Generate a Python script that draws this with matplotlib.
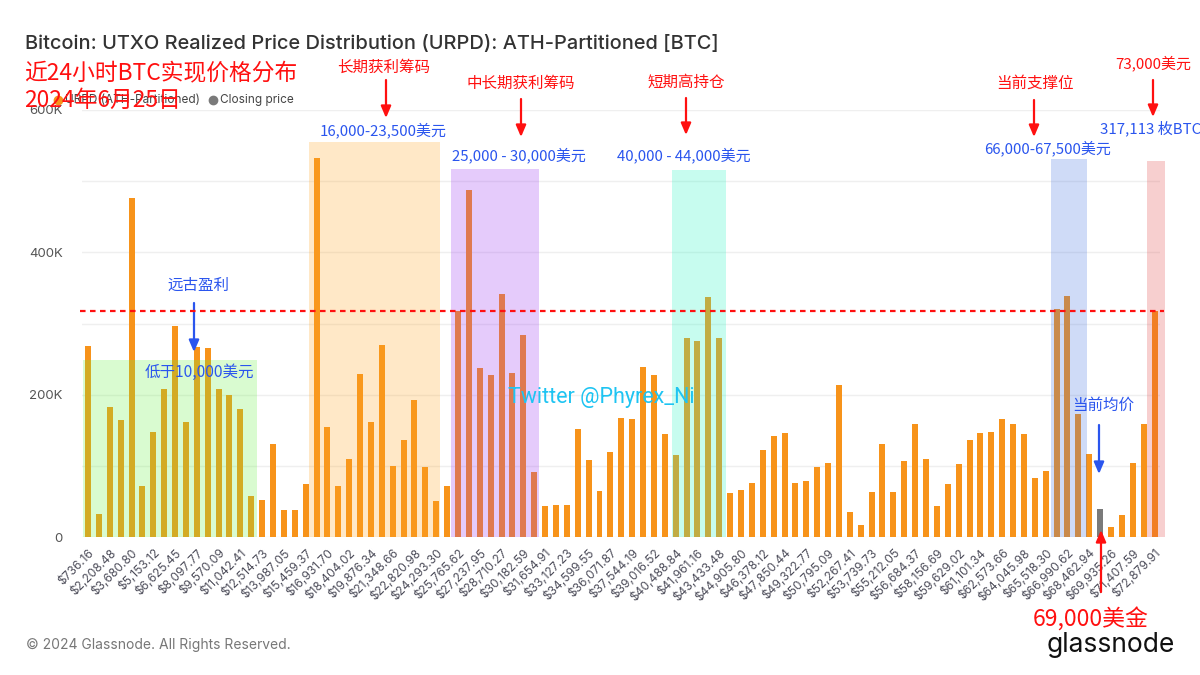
import matplotlib
matplotlib.use("Agg")
import matplotlib.pyplot as plt
from matplotlib.patches import Rectangle
from matplotlib.lines import Line2D

# ---------------- data ----------------
tick_labels = ["$736.16", "$2,208.48", "$3,680.80", "$5,153.12", "$6,625.45", "$8,097.77",
               "$9,570.09", "$11,042.41", "$12,514.73", "$13,987.05", "$15,459.37", "$16,931.70",
               "$18,404.02", "$19,876.34", "$21,348.66", "$22,820.98", "$24,293.30", "$25,765.62",
               "$27,237.95", "$28,710.27", "$30,182.59", "$31,654.91", "$33,127.23", "$34,599.55",
               "$36,071.87", "$37,544.19", "$39,016.52", "$40,488.84", "$41,961.16", "$43,433.48",
               "$44,905.80", "$46,378.12", "$47,850.44", "$49,322.77", "$50,795.09", "$52,267.41",
               "$53,739.73", "$55,212.05", "$56,684.37", "$58,156.69", "$59,629.02", "$61,101.34",
               "$62,573.66", "$64,045.98", "$65,518.30", "$66,990.62", "$68,462.94", "$69,935.26",
               "$71,407.59", "$72,879.91"]

# supply (BTC) per price bucket, 99 buckets
urpd_values = [269000, 32000, 183000, 164000, 476000, 71000, 147000, 208000, 297000, 162000,
               267000, 266000, 208000, 200000, 180000, 58000, 52000, 130000, 38000, 38000,
               75000, 532000, 154000, 72000, 109000, 229000, 162000, 270000, 100000, 137000,
               193000, 98000, 51000, 71000, 318000, 487000, 238000, 227000, 342000, 231000,
               284000, 91000, 44000, 45000, 45000, 152000, 108000, 65000, 119000, 167000,
               166000, 239000, 228000, 145000, 115000, 279000, 275000, 337000, 280000, 62000,
               66000, 76000, 122000, 142000, 146000, 76000, 78000, 98000, 104000, 213000,
               35000, 17000, 63000, 130000, 63000, 107000, 159000, 110000, 44000, 75000,
               103000, 137000, 146000, 148000, 166000, 159000, 145000, 83000, 93000, 321000,
               339000, 173000, 117000, 39000, 14000, 31000, 104000, 159000, 317000]
closing_bucket = 93          # bucket holding the closing price
ref_level = 317113           # red dashed reference line

# ---------------- styling ----------------
ORANGE = "#f7931a"
GREY = "#7a7a7a"
RED = "#ff1010"
BLUE = "#2a55ee"
CJK = ["Noto Sans CJK SC", "DejaVu Sans"]
UI = ["Inter", "DejaVu Sans"]

W, H = 1200, 675
fig = plt.figure(figsize=(12, 6.75), dpi=100)
fig.patch.set_facecolor("white")

def fx(x):
    return x / W

def fy(y):
    return 1 - y / H

ax = fig.add_axes([fx(82), fy(537), (1160 - 82) / W, (537 - 110) / H])
ax.set_facecolor("white")

n = len(urpd_values)
xs = list(range(n))
colors = [GREY if i == closing_bucket else ORANGE for i in xs]
ax.bar(xs, urpd_values, width=0.55, color=colors, zorder=2)

ax.set_xlim(-0.55, 98.5)
ax.set_ylim(0, 600000)
ax.set_yticks([0, 200000, 400000, 600000])
ax.set_yticklabels(["0", "200K", "400K", "600K"], family=UI, fontsize=9.5, color="#555555")
ax.set_yticks([100000, 300000, 500000], minor=True)
ax.grid(axis="y", which="both", color="#efefef", linewidth=1, zorder=0)
ax.set_xticks(xs[::2])
ax.set_xticklabels(tick_labels, rotation=45, ha="right", rotation_mode="anchor",
                   family=UI, fontsize=8.6, color="#4d4d5a")
ax.tick_params(axis="both", which="both", length=0)
ax.tick_params(axis="x", pad=7)
ax.tick_params(axis="y", pad=14)
for s in ax.spines.values():
    s.set_visible(False)

# highlighted bands (semi-transparent, drawn above bars)
bands = [(-0.46, 15.5, 249000, "#68f344"),
         (20.3, 32.3, 555000, "#ffa723"),
         (33.35, 41.4, 517000, "#9b33f3"),
         (53.65, 58.6, 516000, "#23f7c3"),
         (88.5, 91.75, 531000, "#4373e3"),
         (97.3, 98.95, 529000, "#e34343")]
for x0, x1, top, c in bands:
    ax.add_patch(Rectangle((x0, 0), x1 - x0, top, facecolor=c, alpha=0.25,
                           edgecolor="none", zorder=3, clip_on=False))

# red dashed line
ax.plot([-0.75, 98.9], [ref_level, ref_level], color=RED, lw=1.6,
        dashes=(2.5, 2.0), zorder=4, clip_on=False)

# ---------------- texts ----------------
fig.text(fx(25), fy(44), "Bitcoin: UTXO Realized Price Distribution (URPD): ATH-Partitioned [BTC]",
         family=UI, fontsize=14.4, color="#333333", va="center", ha="left", fontweight="medium")

# legend
fig.add_artist(Line2D([fx(58)], [fy(100)], marker="o", color=ORANGE, markersize=6,
                      transform=fig.transFigure))
fig.text(fx(65), fy(100), "URPD (ATH-Partitioned)", family=UI, fontsize=8.5,
         color="#444444", va="center")
fig.add_artist(Line2D([fx(213)], [fy(100)], marker="o", color=GREY, markersize=6,
                      transform=fig.transFigure))
fig.text(fx(220), fy(100), "Closing price", family=UI, fontsize=8.5,
         color="#444444", va="center")

fig.text(fx(24), fy(74), "近24小时BTC实现价格分布", family=CJK, fontsize=16.4,
         color=RED, va="center", ha="left")
fig.text(fx(24), fy(100), "2024年6月25日", family=CJK, fontsize=16.4,
         color=RED, va="center", ha="left")

def label(x, y, s, color, size=11.2):
    fig.text(fx(x), fy(y), s, family=CJK, fontsize=size, color=color,
             ha="center", va="center")

def arrow(x, y0, y1, color):
    ax.annotate("", xy=(fx(x), fy(y1)), xytext=(fx(x), fy(y0)),
                xycoords="figure fraction", textcoords="figure fraction",
                arrowprops=dict(arrowstyle="-|>,head_length=0.7,head_width=0.3",
                                color=color, lw=1.6, shrinkA=0, shrinkB=0),
                annotation_clip=False)

label(384, 67, "长期获利筹码", RED)
arrow(386, 80, 118, RED)
label(383, 130, "16,000-23,500美元", BLUE, 10.8)

label(521, 83, "中长期获利筹码", RED)
arrow(521, 99, 137, RED)
label(519, 155, "25,000 - 30,000美元", BLUE, 10.8)

label(686, 82, "短期高持仓", RED)
arrow(686, 98, 135, RED)
label(684, 155, "40,000 - 44,000美元", BLUE, 10.8)

label(1035, 83, "当前支撑位", RED)
arrow(1034, 100, 137, RED)
label(1048, 148, "66,000-67,500美元", BLUE, 10.8)

label(1153, 63, "73,000美元", RED, 10.8)
arrow(1153, 80, 117, RED)
label(1151, 128, "317,113 枚BTC", BLUE, 10.8)

label(198, 285, "远古盈利", BLUE)
arrow(194, 303, 352, BLUE)
label(199, 372, "低于10,000美元", BLUE)

label(1103, 405, "当前均价", BLUE)
arrow(1099, 425, 474, BLUE)

arrow(1101, 592, 530, RED)
fig.text(fx(1091), fy(620), "69,000美金", family=CJK, fontsize=16.5, color=RED,
         ha="center", va="center")

fig.text(fx(601), fy(398), "Twitter @Phyrex_Ni", family=["Roboto", "DejaVu Sans"],
         fontsize=15.5, color="#1ec4f2", ha="center", va="center")

fig.text(fx(26), fy(645), "© 2024 Glassnode. All Rights Reserved.", family=UI,
         fontsize=10, color="#777777", va="center", ha="left")
fig.text(fx(1111), fy(645), "glassnode", family=UI, fontsize=19, color="#111111",
         va="center", ha="center")

fig.savefig("out.png", dpi=100, facecolor="white")
